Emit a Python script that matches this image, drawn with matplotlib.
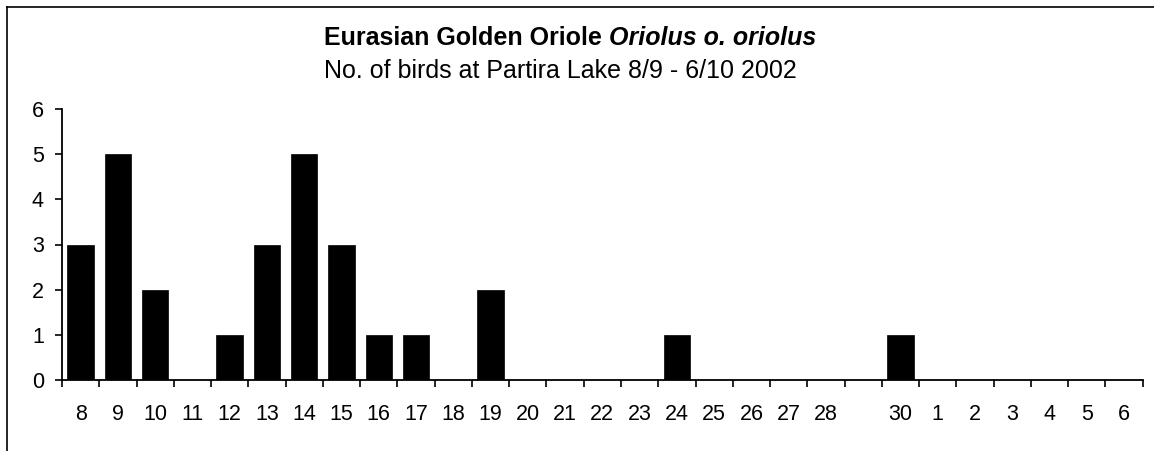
import matplotlib
matplotlib.use("Agg")
import matplotlib.pyplot as plt
from matplotlib.lines import Line2D
from matplotlib.ticker import FixedLocator
import numpy as np

categories = ["8", "9", "10", "11", "12", "13", "14", "15", "16", "17", "18", "19", "20",
              "21", "22", "23", "24", "25", "26", "27", "28", "", "30", "1", "2", "3", "4", "5", "6"]
birds = [3, 5, 2, 0, 1, 3, 5, 3, 1, 1, 0, 2, 0,
         0, 0, 0, 1, 0, 0, 0, 0, 0, 1, 0, 0, 0, 0, 0, 0]
title_main = "Eurasian Golden Oriole "
title_species = "Oriolus o. oriolus"
subtitle = "No. of birds at Partira Lake 8/9 - 6/10 2002"

plt.rcParams['font.family'] = ['Liberation Sans', 'DejaVu Sans']

W, H = 1154, 451
fig = plt.figure(figsize=(W / 100, H / 100), dpi=100)
fig.patch.set_facecolor("white")

ax = fig.add_axes([62 / W, (H - 380) / H, (1142.7 - 62) / W, (380 - 109) / H])
x = np.arange(len(categories))
ax.bar(x, birds, width=0.71, color="black", edgecolor="black", linewidth=0.5)

ax.set_xlim(-0.5, len(categories) - 0.5)
ax.set_ylim(0, 6)
ax.set_yticks(range(0, 7))
ax.set_xticks(x)
ax.set_xticklabels(categories, fontsize=15.5)
ax.xaxis.set_minor_locator(FixedLocator(np.arange(-0.5, len(categories), 1.0)))
ax.tick_params(axis="x", which="major", length=0, pad=17)
ax.tick_params(axis="x", which="minor", length=5, width=1.2, direction="out")
ax.tick_params(axis="y", length=5, width=1.2, direction="out", labelsize=15.5, pad=8)
for s in ["top", "right"]:
    ax.spines[s].set_visible(False)
for s in ["left", "bottom"]:
    ax.spines[s].set_linewidth(1.3)
    ax.spines[s].set_color("black")

# Title: bold part + bold italic part
fig.canvas.draw()
renderer = fig.canvas.get_renderer()
t1 = fig.text(324 / W, 1 - 45 / H, title_main, fontsize=18, fontweight="bold",
              ha="left", va="baseline")
bb = t1.get_window_extent(renderer)
fig.text(bb.x1 / W, 1 - 45 / H, title_species, fontsize=18, fontweight="bold",
         fontstyle="italic", ha="left", va="baseline")
fig.text(324 / W, 1 - 78 / H, subtitle, fontsize=18, ha="left", va="baseline")

# chart frame (top and left edges visible)
fig.add_artist(Line2D([7 / W, 1.0], [1 - 7 / H, 1 - 7 / H], transform=fig.transFigure,
                      color="black", linewidth=1.2))
fig.add_artist(Line2D([7 / W, 7 / W], [0.0, 1 - 7 / H], transform=fig.transFigure,
                      color="black", linewidth=1.2))

fig.savefig("out.png", dpi=100, facecolor="white")
